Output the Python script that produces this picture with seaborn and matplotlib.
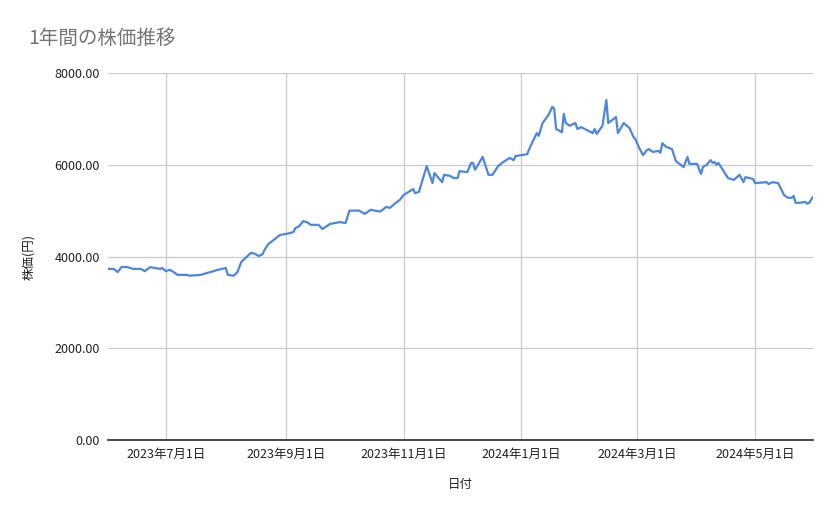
import matplotlib
matplotlib.use("Agg")
import matplotlib.pyplot as plt
import seaborn as sns
import pandas as pd
import numpy as np

start_date = "2023-06-01"
day_offsets = [0,3,5,7,10,13,17,19,22,24,27,28,30,32,34,36,41,42,48,53,57,61,62,65,67,69,74,76,78,80,81,83,87,89,92,94,96,97,99,101,103,105,109,111,115,120,123,125,130,133,136,138,141,144,146,149,151,153,158,159,161,165,168,169,173,174,177,179,181,182,186,188,189,190,194,197,199,202,204,208,210,211,217,219,222,223,225,228,230,231,232,235,236,237,239,242,243,245,251,252,253,256,258,259,263,264,265,267,270,272,273,275,277,279,280,282,285,286,287,289,292,294,298,300,301,305,307,308,310,312,313,314,315,316,318,321,324,327,329,330,334,335,341,342,344,347,350,352,354,355,356,358,361,362,363,365]
prices = [3730,3730,3660,3770,3770,3730,3730,3680,3770,3750,3730,3750,3680,3710,3660,3600,3600,3580,3600,3660,3710,3750,3600,3580,3660,3880,4080,4060,4010,4050,4140,4270,4400,4470,4490,4510,4530,4620,4660,4770,4750,4690,4690,4600,4710,4750,4730,5000,5000,4930,5020,5000,4980,5080,5060,5170,5230,5340,5470,5380,5410,5970,5600,5820,5620,5780,5760,5710,5710,5860,5840,6040,6040,5890,6170,5780,5780,5970,6040,6150,6100,6190,6230,6430,6690,6630,6910,7080,7260,7220,6780,6710,7110,6910,6850,6910,6780,6820,6690,6780,6670,6850,7410,6910,7040,6690,6760,6910,6800,6610,6560,6370,6210,6320,6340,6280,6300,6260,6470,6390,6340,6080,5950,6170,6020,6020,5800,5950,6000,6100,6040,6060,6000,6040,5910,5710,5670,5780,5620,5730,5690,5600,5620,5580,5620,5600,5340,5280,5280,5320,5170,5170,5190,5150,5170,5300]
tick_dates = ["2023-07-01","2023-09-01","2023-11-01","2024-01-01","2024-03-01","2024-05-01"]
tick_labels = ["2023年7月1日","2023年9月1日","2023年11月1日","2024年1月1日","2024年3月1日","2024年5月1日"]
y_ticks = [0, 2000, 4000, 6000, 8000]

df = pd.DataFrame({"日付": pd.Timestamp(start_date) + pd.to_timedelta(day_offsets, unit="D"),
                   "株価": prices})

sns.set_theme(style="white")
plt.rcParams['font.family'] = ['Noto Sans CJK JP', 'DejaVu Sans']

fig = plt.figure(figsize=(8.39, 5.19), dpi=100)
ax = fig.add_axes([108/839, 1-440/519, (813-108)/839, (440-73)/519])
sns.lineplot(data=df, x="日付", y="株価", ax=ax, color="#4a86e8", linewidth=1.6)

ax.set_xlim(pd.Timestamp(start_date), pd.Timestamp(start_date) + pd.Timedelta(days=365))
ax.set_ylim(0, 8000)
ax.set_xticks(pd.to_datetime(tick_dates))
ax.set_xticklabels(tick_labels, fontsize=9, color="#222222")
ax.set_yticks(y_ticks)
ax.set_yticklabels([f"{v:.2f}" for v in y_ticks], fontsize=9, color="#222222")
ax.grid(True, color="#cccccc", linewidth=0.9)
for s in ["top", "right", "left"]:
    ax.spines[s].set_visible(False)
ax.spines["bottom"].set_color("#333333")
ax.tick_params(length=0, pad=6)
ax.set_xlabel("日付", fontsize=9, labelpad=12, color="#222222")
ax.set_ylabel("株価(円)", fontsize=9, labelpad=14, color="#222222")
fig.text(28/839, 1-38/519, "1年間の株価推移", fontsize=14, color="#757575", va="center")
fig.savefig("out.png", dpi=100)
